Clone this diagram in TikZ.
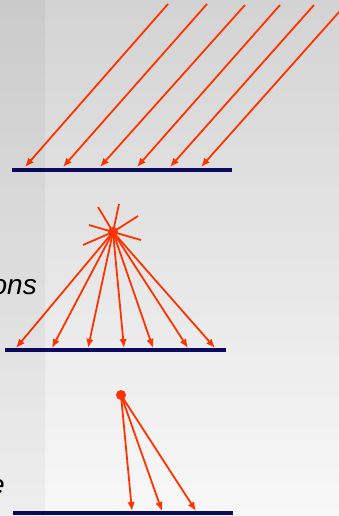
\documentclass[tikz,border=0pt]{standalone}
\usepackage{fontspec}
\setmainfont{Liberation Sans}
\usetikzlibrary{arrows.meta}
\definecolor{bgtop}{HTML}{D3D3D3}
\definecolor{bgbot}{HTML}{F8F8F8}
\definecolor{ray}{HTML}{FF3300}
\definecolor{surf}{HTML}{0A0A5E}
\tikzset{
  raystyle/.style={draw=ray, line width=1.8pt, -{Latex[length=9pt,width=7.5pt]}},
  spike/.style={draw=ray, line width=1.8pt},
  surface/.style={draw=surf, line width=3.5pt},
  srcdot/.style={circle, fill=ray, inner sep=0pt, minimum size=10pt},
  sidetext/.style={font=\itshape\fontsize{28}{30}\selectfont, inner sep=0pt}
}
\begin{document}
\begin{tikzpicture}[x=1pt,y=-1pt]
\useasboundingbox (0,0) rectangle (339,516);
\shade[top color=bgtop, bottom color=bgbot] (0,0) rectangle (339,516);
\begin{scope}
\clip (0,0) rectangle (339,516);
% side texts
\node[sidetext, anchor=base east] (t1) at (37,294) {ons};
\node[sidetext, anchor=base east] (t2) at (5,494) {e};
% panel 1: parallel rays
\coordinate (s1a) at (12,170); \coordinate (s1b) at (232,170);
\draw[surface] (s1a) -- (s1b);
\foreach \i/\xt/\yt/\xe in {1/168/4/25, 2/207/4/63, 3/245/5/100, 4/280/5/137, 5/314/5/170, 6/348/2/201}{
  \coordinate (p\i) at (\xt,\yt);
  \coordinate (q\i) at (\xe,167);
  \draw[raystyle] (p\i) -- (q\i);
}
% panel 2: point source with spikes
\coordinate (s2a) at (5,350); \coordinate (s2b) at (226,350);
\draw[surface] (s2a) -- (s2b);
\node[srcdot] (src2) at (113,232) {};
\foreach \j/\xs/\ys in {1/98/207, 2/119/204, 3/138/216, 4/89/225, 5/141/240, 6/83/245}{
  \coordinate (k\j) at (\xs,\ys);
  \draw[spike] (src2.center) -- (k\j);
}
\foreach \j/\xe in {1/16, 2/52, 3/88, 4/124, 5/153, 6/188, 7/215}{
  \coordinate (e\j) at (\xe,348);
  \draw[raystyle] (src2.center) -- (e\j);
}
% panel 3: small source
\coordinate (s3a) at (13,513); \coordinate (s3b) at (233,513);
\draw[surface] (s3a) -- (s3b);
\node[srcdot] (src3) at (121,395) {};
\foreach \j/\xe in {1/132, 2/162, 3/196}{
  \coordinate (f\j) at (\xe,511);
  \draw[raystyle] (src3.center) -- (f\j);
}
% left overlay strip
\fill[black, opacity=0.04] (0,0) rectangle (45,516);
\end{scope}
\end{tikzpicture}
\end{document}
